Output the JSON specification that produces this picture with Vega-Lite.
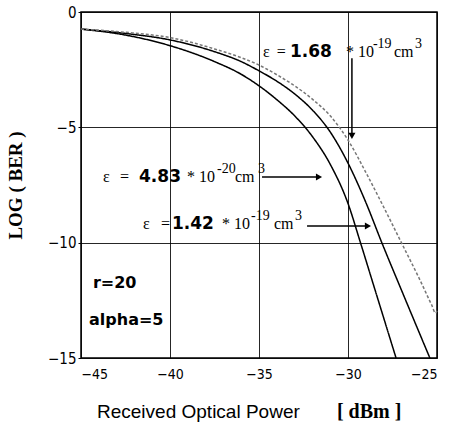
{
  "$schema": "https://vega.github.io/schema/vega-lite/v6.json",
  "width": 356,
  "height": 346,
  "autosize": {"type": "none"},
  "padding": {"left": 81, "top": 12, "right": 12, "bottom": 68},
  "background": "white",
  "config": {
    "view": {"stroke": "black", "strokeWidth": 1.5},
    "axis": {"domain": false, "gridColor": "black", "gridOpacity": 0.85, "gridWidth": 1, "labelColor": "black", "titleColor": "black", "tickColor": "black"}
  },
  "datasets": {
    "curves": [
      {"eps": "4.83e-20", "p": -45, "ber": -0.74},
      {"eps": "4.83e-20", "p": -42.5, "ber": -1.0},
      {"eps": "4.83e-20", "p": -40, "ber": -1.46},
      {"eps": "4.83e-20", "p": -37.5, "ber": -2.15},
      {"eps": "4.83e-20", "p": -36, "ber": -2.7},
      {"eps": "4.83e-20", "p": -35, "ber": -3.2},
      {"eps": "4.83e-20", "p": -34, "ber": -3.8},
      {"eps": "4.83e-20", "p": -33, "ber": -4.5},
      {"eps": "4.83e-20", "p": -32, "ber": -5.4},
      {"eps": "4.83e-20", "p": -31, "ber": -6.6},
      {"eps": "4.83e-20", "p": -30, "ber": -8.3},
      {"eps": "4.83e-20", "p": -29.3, "ber": -10.0},
      {"eps": "4.83e-20", "p": -28.5, "ber": -12.0},
      {"eps": "4.83e-20", "p": -27.3, "ber": -15.0},
      {"eps": "1.42e-19", "p": -45, "ber": -0.74},
      {"eps": "1.42e-19", "p": -42.5, "ber": -0.93},
      {"eps": "1.42e-19", "p": -40, "ber": -1.21},
      {"eps": "1.42e-19", "p": -37.5, "ber": -1.72},
      {"eps": "1.42e-19", "p": -36, "ber": -2.15},
      {"eps": "1.42e-19", "p": -35, "ber": -2.55},
      {"eps": "1.42e-19", "p": -34, "ber": -3.0},
      {"eps": "1.42e-19", "p": -33, "ber": -3.55},
      {"eps": "1.42e-19", "p": -32, "ber": -4.25},
      {"eps": "1.42e-19", "p": -31, "ber": -5.2},
      {"eps": "1.42e-19", "p": -30, "ber": -6.55},
      {"eps": "1.42e-19", "p": -29, "ber": -8.25},
      {"eps": "1.42e-19", "p": -28.1, "ber": -10.0},
      {"eps": "1.42e-19", "p": -27, "ber": -12.05},
      {"eps": "1.42e-19", "p": -25.4, "ber": -15.0},
      {"eps": "1.68e-19", "p": -45, "ber": -0.74},
      {"eps": "1.68e-19", "p": -42.5, "ber": -0.88},
      {"eps": "1.68e-19", "p": -40, "ber": -1.11},
      {"eps": "1.68e-19", "p": -37.5, "ber": -1.6},
      {"eps": "1.68e-19", "p": -36, "ber": -1.98},
      {"eps": "1.68e-19", "p": -35, "ber": -2.3},
      {"eps": "1.68e-19", "p": -34, "ber": -2.72},
      {"eps": "1.68e-19", "p": -33, "ber": -3.2},
      {"eps": "1.68e-19", "p": -32, "ber": -3.78},
      {"eps": "1.68e-19", "p": -31, "ber": -4.5},
      {"eps": "1.68e-19", "p": -30, "ber": -5.55},
      {"eps": "1.68e-19", "p": -29, "ber": -6.95},
      {"eps": "1.68e-19", "p": -28, "ber": -8.45},
      {"eps": "1.68e-19", "p": -27, "ber": -10.0},
      {"eps": "1.68e-19", "p": -26, "ber": -11.55},
      {"eps": "1.68e-19", "p": -25.3, "ber": -12.7},
      {"eps": "1.68e-19", "p": -25.08, "ber": -13.05},
      {"eps": "1.68e-19", "p": -25, "ber": -12.95}
    ],
    "normal": [
      {"t": "ε", "x": -34.78, "y": -1.95},
      {"t": "=", "x": -34.0, "y": -1.95},
      {"t": "* 10", "x": -30.11, "y": -1.95},
      {"t": "cm", "x": -27.42, "y": -1.95},
      {"t": "ε", "x": -43.76, "y": -7.37},
      {"t": "=", "x": -42.81, "y": -7.37},
      {"t": "* 10", "x": -39.04, "y": -7.37},
      {"t": "cm", "x": -36.35, "y": -7.37},
      {"t": "ε", "x": -41.52, "y": -9.41},
      {"t": "=", "x": -40.5, "y": -9.41},
      {"t": "* 10", "x": -37.08, "y": -9.41},
      {"t": "cm", "x": -34.16, "y": -9.41}
    ],
    "bold": [
      {"t": "1.68", "x": -33.26, "y": -1.95},
      {"t": "4.83", "x": -41.74, "y": -7.37},
      {"t": "1.42", "x": -39.89, "y": -9.41}
    ],
    "sup": [
      {"t": "-19", "x": -28.6, "y": -1.95},
      {"t": "3", "x": -26.24, "y": -1.95},
      {"t": "-20", "x": -37.36, "y": -7.37},
      {"t": "3", "x": -35.06, "y": -7.37},
      {"t": "-19", "x": -35.45, "y": -9.41},
      {"t": "3", "x": -32.98, "y": -9.41}
    ],
    "params": [
      {"t": "r=20", "x": -44.33, "y": -11.96},
      {"t": "alpha=5", "x": -44.55, "y": -13.57}
    ],
    "arrows": [
      {"x": -29.78, "y": -2.0, "x2": -29.78, "y2": -5.3},
      {"x": -34.83, "y": -7.15, "x2": -31.7, "y2": -7.15},
      {"x": -32.3, "y": -9.28, "x2": -29.0, "y2": -9.28}
    ],
    "tipsRight": [
      {"x": -31.63, "y": -7.15},
      {"x": -28.88, "y": -9.28}
    ],
    "tipsDown": [
      {"x": -29.78, "y": -5.37}
    ],
    "xtitle": [
      {"t": "Received Optical Power", "x": -44.1, "y": -17.6}
    ],
    "unit": [
      {"t": "[ dBm ]", "x": -30.62, "y": -17.6}
    ]
  },
  "layer": [
    {
      "data": {"name": "curves"},
      "mark": {"type": "line", "interpolate": "monotone"},
      "encoding": {
        "x": {"field": "p", "type": "quantitative", "scale": {"domain": [-45, -25], "nice": false, "zero": false},
              "axis": {"values": [-45, -40, -35, -30, -25], "title": null, "grid": true, "ticks": false, "labelPadding": 9,
                       "labelFont": "Liberation Sans Narrow, DejaVu Sans Condensed", "labelFontSize": 14,
                       "labelAlign": {"condition": [{"test": "datum.value == -45", "value": "left"}, {"test": "datum.value == -25", "value": "right"}], "value": "center"}}},
        "y": {"field": "ber", "type": "quantitative", "scale": {"domain": [-15, 0], "nice": false, "zero": false},
              "axis": {"values": [0, -5, -10, -15], "title": "LOG ( BER )", "grid": true, "tickSize": 3, "labelPadding": 2,
                       "labelFont": "Liberation Sans Narrow, DejaVu Sans Condensed", "labelFontSize": 15,
                       "titleFont": "Liberation Serif", "titleFontWeight": "bold", "titleFontSize": 19, "titlePadding": 22}},
        "color": {"field": "eps", "type": "nominal", "scale": {"domain": ["4.83e-20", "1.42e-19", "1.68e-19"], "range": ["black", "black", "#777777"]}, "legend": null},
        "strokeWidth": {"field": "eps", "type": "nominal", "scale": {"domain": ["4.83e-20", "1.42e-19", "1.68e-19"], "range": [1.5, 1.5, 1]}, "legend": null},
        "strokeDash": {"field": "eps", "type": "nominal", "scale": {"domain": ["4.83e-20", "1.42e-19", "1.68e-19"], "range": [[1, 0], [1, 0], [3, 2]]}, "legend": null}
      }
    },
    {
      "data": {"name": "arrows"},
      "mark": {"type": "rule", "color": "black", "strokeWidth": 1.5},
      "encoding": {
        "x": {"field": "x", "type": "quantitative"},
        "y": {"field": "y", "type": "quantitative"},
        "x2": {"field": "x2"},
        "y2": {"field": "y2"}
      }
    },
    {
      "data": {"name": "tipsRight"},
      "mark": {"type": "point", "shape": "triangle-right", "filled": true, "color": "black", "size": 50, "opacity": 1},
      "encoding": {"x": {"field": "x", "type": "quantitative"}, "y": {"field": "y", "type": "quantitative"}}
    },
    {
      "data": {"name": "tipsDown"},
      "mark": {"type": "point", "shape": "triangle-down", "filled": true, "color": "black", "size": 50, "opacity": 1},
      "encoding": {"x": {"field": "x", "type": "quantitative"}, "y": {"field": "y", "type": "quantitative"}}
    },
    {
      "data": {"name": "normal"},
      "mark": {"type": "text", "align": "left", "baseline": "alphabetic", "font": "Liberation Serif", "fontSize": 16, "color": "black"},
      "encoding": {"x": {"field": "x", "type": "quantitative"}, "y": {"field": "y", "type": "quantitative"}, "text": {"field": "t"}}
    },
    {
      "data": {"name": "bold"},
      "mark": {"type": "text", "align": "left", "baseline": "alphabetic", "font": "DejaVu Sans", "fontWeight": "bold", "fontSize": 17, "color": "black"},
      "encoding": {"x": {"field": "x", "type": "quantitative"}, "y": {"field": "y", "type": "quantitative"}, "text": {"field": "t"}}
    },
    {
      "data": {"name": "sup"},
      "mark": {"type": "text", "align": "left", "baseline": "alphabetic", "font": "Liberation Serif", "fontSize": 14, "dy": -9, "color": "black"},
      "encoding": {"x": {"field": "x", "type": "quantitative"}, "y": {"field": "y", "type": "quantitative"}, "text": {"field": "t"}}
    },
    {
      "data": {"name": "params"},
      "mark": {"type": "text", "align": "left", "baseline": "alphabetic", "font": "DejaVu Sans", "fontWeight": "bold", "fontSize": 16, "color": "black"},
      "encoding": {"x": {"field": "x", "type": "quantitative"}, "y": {"field": "y", "type": "quantitative"}, "text": {"field": "t"}}
    },
    {
      "data": {"name": "xtitle"},
      "mark": {"type": "text", "align": "left", "baseline": "alphabetic", "font": "Liberation Sans", "fontSize": 19, "color": "black"},
      "encoding": {"x": {"field": "x", "type": "quantitative"}, "y": {"field": "y", "type": "quantitative"}, "text": {"field": "t"}}
    },
    {
      "data": {"name": "unit"},
      "mark": {"type": "text", "align": "left", "baseline": "alphabetic", "font": "Liberation Serif", "fontWeight": "bold", "fontSize": 20, "color": "black"},
      "encoding": {"x": {"field": "x", "type": "quantitative"}, "y": {"field": "y", "type": "quantitative"}, "text": {"field": "t"}}
    }
  ]
}
